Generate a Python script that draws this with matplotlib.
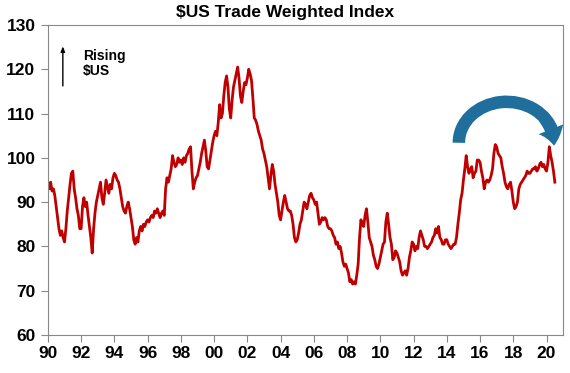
import numpy as np
import matplotlib
matplotlib.use('Agg')
import matplotlib.pyplot as plt
from matplotlib.patches import Arc, FancyArrowPatch, ArrowStyle

plt.rcParams['font.family'] = ['Liberation Sans', 'DejaVu Sans']

# Monthly index values, Jan 1990 - Jul 2020
twi_by_year = {
    1990: [94, 93, 94.5, 92.5, 93, 91.5, 89, 86.5, 84, 82.5, 83.5, 82],
    1991: [81, 84, 88, 91, 94, 96.5, 97, 93, 91, 88.5, 87, 84],
    1992: [84, 89, 91, 89, 90, 87, 84.5, 82, 78.5, 84, 87.5, 90],
    1993: [91.5, 93, 94.5, 91, 89.5, 92, 95, 93.5, 92, 94, 93, 95.5],
    1994: [96.5, 96, 95, 94.5, 93, 91, 89, 88, 87.5, 89, 90, 88.5],
    1995: [86.5, 84.5, 81.5, 80.5, 82, 81, 83.5, 84.5, 83.5, 85, 84.5, 85.5],
    1996: [86, 85.5, 86.5, 87, 86.5, 88, 87.5, 88.5, 87.5, 86.5, 87.5, 88],
    1997: [87, 93, 95.5, 94.5, 96, 97.5, 100.5, 99, 98, 98.5, 100, 99],
    1998: [99.5, 98.5, 100, 99, 100.5, 101, 102, 102.5, 97, 93, 94.5, 95.5],
    1999: [96, 97.5, 99, 101, 102.5, 104, 101.5, 98, 97.5, 99.5, 101.5, 103.5],
    2000: [105, 106, 105, 108, 112, 109, 110, 114, 117, 118.5, 116, 111],
    2001: [109, 113, 116, 117.5, 119, 120.5, 118, 114, 112.5, 115, 117, 116.5],
    2002: [118, 120, 119, 117.5, 113.5, 109, 108.5, 107.5, 106, 105, 104, 102],
    2003: [101, 99.5, 98, 95.5, 93, 96, 98.5, 97, 94, 92, 90, 87],
    2004: [86, 88, 90, 91.5, 90, 88.5, 88, 88, 87, 85, 82, 81],
    2005: [81.5, 83, 85, 86, 88, 90, 89.5, 88.5, 90, 91.5, 92, 91],
    2006: [90.5, 89.5, 90, 87.5, 85, 85.5, 86.5, 86, 86.5, 86, 84.5, 84],
    2007: [84, 83.5, 82.5, 82, 80.5, 81, 79.5, 80, 78.5, 76.5, 75.5, 76],
    2008: [75, 74, 72, 72.5, 71.5, 72, 71.5, 73.5, 76, 82, 86, 85],
    2009: [84.5, 87, 88.5, 85.5, 82, 81, 80, 78, 77, 75.5, 75, 76],
    2010: [77.5, 79, 80.5, 81, 85.5, 87.5, 85, 82, 80.5, 77, 77.5, 79],
    2011: [78.5, 77.5, 76.5, 74.5, 73.5, 74, 74.5, 73.5, 75, 77.5, 79, 81],
    2012: [80.5, 79, 80, 79.5, 82, 83.5, 82.5, 81.5, 80, 80, 79.5, 80],
    2013: [80.5, 81, 82, 82.5, 84, 83, 84.5, 82, 81.5, 80.5, 80.5, 81.5],
    2014: [81.5, 80.5, 80, 79.5, 80, 80.5, 80.5, 82, 85, 87.5, 90.5, 92],
    2015: [95, 97.5, 100.5, 98, 96.5, 97.5, 98, 95.5, 96.5, 97, 99.5, 99.5],
    2016: [99, 97, 95.5, 93, 94.5, 95, 94.5, 95, 96, 97.5, 101, 103],
    2017: [102.5, 101, 100.5, 100, 98, 96.5, 94.5, 93.5, 93, 94, 94.5, 92.5],
    2018: [90, 88.5, 89, 90, 93, 94, 94.5, 95, 95.5, 96, 97, 96.5],
    2019: [96.5, 97, 97.5, 97.5, 98, 97, 97.5, 98.5, 99, 98, 98.5, 97.5],
    2020: [97, 99, 102.5, 100.5, 99, 97, 94.5],
}

dates = []
values = []
for yr, vals in twi_by_year.items():
    for m, v in enumerate(vals):
        dates.append(yr + m / 12)
        values.append(v)

x_ticks = list(range(1990, 2021, 2))
x_labels = [f"{t % 100:02d}" for t in x_ticks]
y_ticks = list(range(60, 131, 10))

fig = plt.figure(figsize=(5.7, 3.73), dpi=100)
ax = fig.add_axes([0.084, 0.102, 0.904, 0.831])

ax.plot(dates, values, color='#c00000', linewidth=2.0)

ax.set_xlim(1990, 2021)
ax.set_ylim(60, 130)
ax.set_xticks(x_ticks)
ax.set_xticklabels(x_labels, fontsize=12.5, fontweight='bold')
ax.set_yticks(y_ticks)
ax.set_yticklabels([str(t) for t in y_ticks], fontsize=12.5, fontweight='bold')
ax.tick_params(axis='both', direction='out', length=5, color='#888888', width=0.8)
ax.tick_params(axis='x', pad=3)
ax.tick_params(axis='y', pad=4)
for s in ax.spines.values():
    s.set_color('#888888')
    s.set_linewidth(0.8)

fig.text(0.5, 0.967, '$US Trade Weighted Index', fontsize=12.5, fontweight='bold',
         ha='center', va='center')

# "Rising $US" note
ax.annotate('', xy=(1990.9, 125.8), xytext=(1990.9, 115.6),
            arrowprops=dict(arrowstyle='-|>,head_length=0.3,head_width=0.12',
                            color='black', lw=1.0))
ax.text(2.1 + 1990, 124.6, 'Rising\n$US', fontsize=10, fontweight='bold',
        va='top', ha='left', linespacing=1.1)

# curved blue arrow: arc band plus arrow head
cx, cy, w, h = 2017.6, 103.4, 5.75, 18.5
blue = '#1f6e9c'
ax.add_patch(Arc((cx, cy), w, h, theta1=38, theta2=180, color=blue,
                 linewidth=9, capstyle='butt'))
t0, t1 = np.radians(42), np.radians(-8)
p0 = (cx + w / 2 * np.cos(t0), cy + h / 2 * np.sin(t0))
p1 = (cx + w / 2 * np.cos(t1), cy + h / 2 * np.sin(t1))
style = ArrowStyle('Simple', head_length=1.2, head_width=1.9, tail_width=0.9)
ax.add_patch(FancyArrowPatch(p0, p1, connectionstyle='arc3,rad=-0.2',
                             arrowstyle=style, mutation_scale=10,
                             color=blue, linewidth=0))

fig.savefig('out.png', dpi=100)
